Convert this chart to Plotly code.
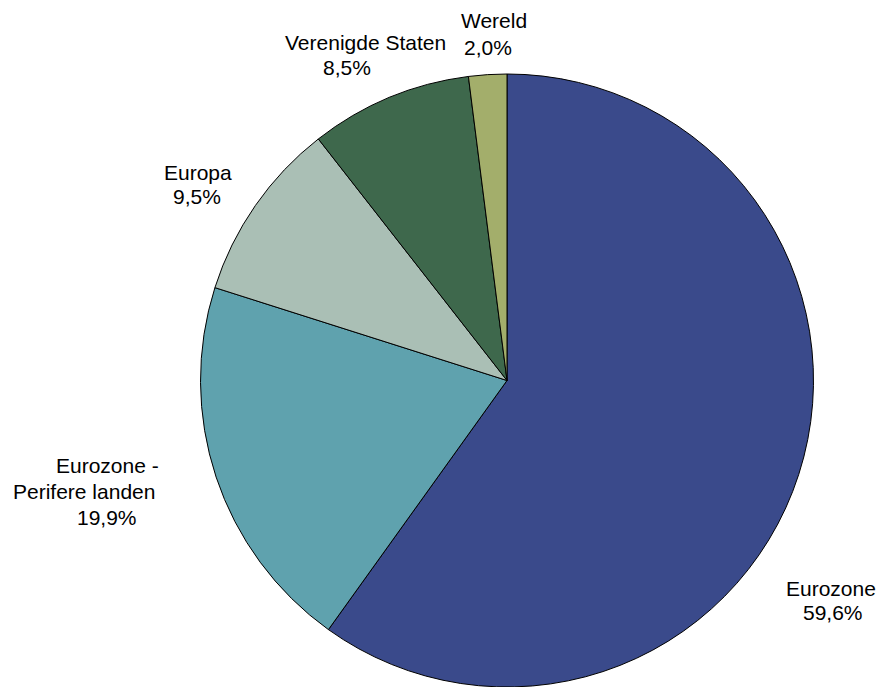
import plotly.graph_objects as go

# Regional allocation (percent)
labels = ["Eurozone", "Eurozone - Perifere landen", "Europa", "Verenigde Staten", "Wereld"]
values = [59.6, 19.9, 9.5, 8.5, 2.0]
colors = ["#3A4A8B", "#5FA2AE", "#AABFB5", "#3E684C", "#A3AE6B"]

# Label lines per slice: each name line and the value line, with pixel anchors
name_lines = [["Eurozone"], ["Eurozone -", "Perifere landen"], ["Europa"], ["Verenigde Staten"], ["Wereld"]]
name_pos = [[(831, 588)], [(107, 465), (84, 491)], [(198, 172)], [(365, 43)], [(494, 21)]]
value_pos = [(833, 612), (107, 517), (197, 197), (347, 68), (488, 47)]

W, H = 882, 687
FONT = dict(family="Liberation Sans, Arial, sans-serif", size=21, color="#000000")


def fmt(v):
    return f"{v:.1f}".replace(".", ",") + "%"


fig = go.Figure(
    go.Pie(
        labels=labels,
        values=values,
        sort=False,
        direction="clockwise",
        rotation=0,
        marker=dict(colors=colors, line=dict(color="#000000", width=1)),
        textinfo="none",
        hoverinfo="label+percent",
        domain=dict(x=[200 / W, 814 / W], y=[0, 1 - 74 / H]),
        showlegend=False,
    )
)

annotations = []
for i, v in enumerate(values):
    for txt, (px, py) in zip(name_lines[i], name_pos[i]):
        annotations.append(dict(text=txt, x=px / W, y=1 - py / H))
    vx, vy = value_pos[i]
    annotations.append(dict(text=fmt(v), x=vx / W, y=1 - vy / H))

for a in annotations:
    a.update(xref="paper", yref="paper", xanchor="center", yanchor="middle",
             showarrow=False, font=FONT)

fig.update_layout(
    width=W,
    height=H,
    margin=dict(l=0, r=0, t=0, b=0),
    paper_bgcolor="white",
    plot_bgcolor="white",
    annotations=annotations,
)

fig.write_html("out.html")
